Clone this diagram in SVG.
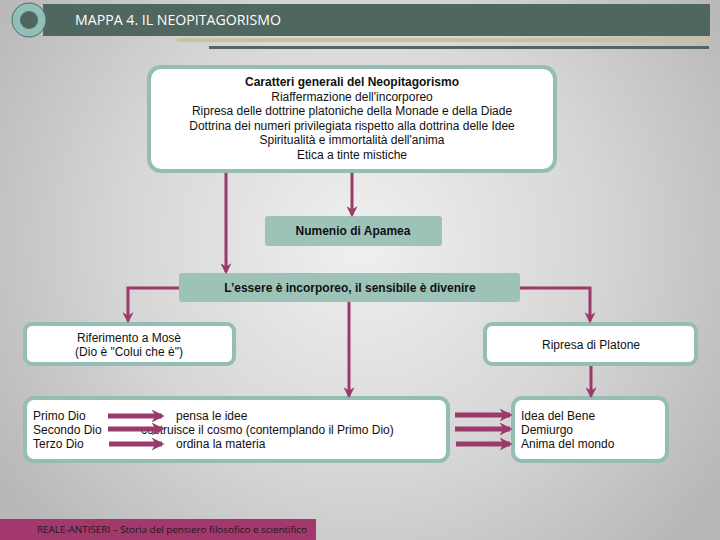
<svg xmlns="http://www.w3.org/2000/svg" width="720" height="540" viewBox="0 0 720 540">
<defs>
<radialGradient id="bg" cx="360" cy="240" r="430" gradientUnits="userSpaceOnUse">
<stop offset="0" stop-color="#f0f0f0"/>
<stop offset="0.55" stop-color="#d6d6d6"/>
<stop offset="1" stop-color="#b8b8b8"/>
</radialGradient>
<marker id="ah" viewBox="0 0 10 10" refX="8" refY="5" markerWidth="11" markerHeight="11" markerUnits="userSpaceOnUse" orient="auto">
<path d="M0,0 L10,5 L0,10 L3,5 z" fill="#9b3a6a"/>
</marker>
<marker id="ahb" viewBox="0 0 10 10" refX="8" refY="5" markerWidth="13" markerHeight="13" markerUnits="userSpaceOnUse" orient="auto">
<path d="M0,0 L10,5 L0,10 L3,5 z" fill="#9b3a6a"/>
</marker>
</defs>
<style>
.box{fill:#ffffff;stroke:#93bdb5;stroke-width:4}
.tbox{fill:#9dc3b9}
.t{font-family:"Liberation Sans",Arial,sans-serif;font-size:12px;fill:#111}
.b{font-weight:bold}
.c{text-anchor:middle}
.con{fill:none;stroke:#9b3a6a;stroke-width:3;marker-end:url(#ah)}
.thk{fill:none;stroke:#9b3a6a;stroke-width:5;marker-end:url(#ahb)}
</style>
<rect width="720" height="540" fill="url(#bg)"/>

<g id="header">
<rect x="43" y="4" width="667" height="32" fill="#506660"/>
<rect x="177" y="38" width="533" height="4" fill="#c9c2a2"/>
<rect x="209" y="46" width="500" height="3" fill="#56665f"/>
<circle cx="29" cy="20" r="17" fill="#8fbfb8" stroke="#4f6a66" stroke-width="1"/>
<circle cx="29" cy="20" r="9" fill="#506660"/>
<text x="75" y="25" font-family="'Open Sans','Liberation Sans',sans-serif" font-size="14" fill="#ffffff" textLength="206" lengthAdjust="spacingAndGlyphs">MAPPA 4. IL NEOPITAGORISMO</text>
</g>

<g id="caratteri">
<rect class="box" x="149" y="67" width="406" height="104" rx="12"/>
<text class="t b c" x="352" y="86">Caratteri generali del Neopitagorismo</text>
<text class="t c" x="352" y="100.5">Riaffermazione dell'incorporeo</text>
<text class="t c" x="352" y="115">Ripresa delle dottrine platoniche della Monade e della Diade</text>
<text class="t c" x="352" y="129.5">Dottrina dei numeri privilegiata rispetto alla dottrina delle Idee</text>
<text class="t c" x="352" y="144">Spiritualità e immortalità dell'anima</text>
<text class="t c" x="352" y="158.5">Etica a tinte mistiche</text>
</g>

<g id="numenio">
<rect class="tbox" x="265" y="216" width="177" height="30" rx="3"/>
<text class="t b c" x="353" y="235">Numenio di Apamea</text>
</g>

<g id="essere">
<rect class="tbox" x="179" y="273" width="341" height="29" rx="3"/>
<text class="t b c" x="350" y="292">L’essere è incorporeo, il sensibile è divenire</text>
</g>

<g id="mose">
<rect class="box" x="25" y="324" width="209" height="40" rx="7"/>
<text class="t c" x="129" y="342">Riferimento a Mosè</text>
<text class="t c" x="129" y="356">(Dio è "Colui che è")</text>
</g>

<g id="platone">
<rect class="box" x="485" y="324" width="211" height="40" rx="7"/>
<text class="t c" x="591" y="349">Ripresa di Platone</text>
</g>

<g id="dei">
<rect class="box" x="25" y="398" width="423" height="63" rx="9"/>
<text class="t" x="33" y="420">Primo Dio</text>
<text class="t" x="33" y="434">Secondo Dio</text>
<text class="t" x="33" y="448">Terzo Dio</text>
<text class="t" x="176" y="420">pensa le idee</text>
<text class="t" x="141" y="434">costruisce il cosmo (contemplando il Primo Dio)</text>
<text class="t" x="176" y="448">ordina la materia</text>
</g>

<g id="platonici">
<rect class="box" x="513" y="398" width="154" height="63" rx="9"/>
<text class="t" x="521" y="420">Idea del Bene</text>
<text class="t" x="521" y="434">Demiurgo</text>
<text class="t" x="521" y="448">Anima del mondo</text>
</g>

<g id="footer">
<rect x="0" y="519" width="316" height="21" fill="#a3386c"/>
<text x="37" y="533" font-family="'Open Sans','Liberation Sans',sans-serif" font-size="9.5" fill="#1a1a1a" textLength="270" lengthAdjust="spacingAndGlyphs">REALE-ANTISERI – Storia del pensiero filosofico e scientifico</text>
</g>

<g id="connectors">
<path class="con" d="M226,173 V272"/>
<path class="con" d="M352,173 V215"/>
<path class="con" d="M179,288 H128 V321"/>
<path class="con" d="M520,288 H590 V321"/>
<path class="con" d="M349,302 V396"/>
<path class="con" d="M591,366 V396"/>
<path class="thk" d="M108,416 H162"/>
<path class="thk" d="M108,429 H162"/>
<path class="thk" d="M109,444 H162"/>
<path class="thk" d="M455,415 H510"/>
<path class="thk" d="M455,429 H510"/>
<path class="thk" d="M456,444 H510"/>
</g>
</svg>
